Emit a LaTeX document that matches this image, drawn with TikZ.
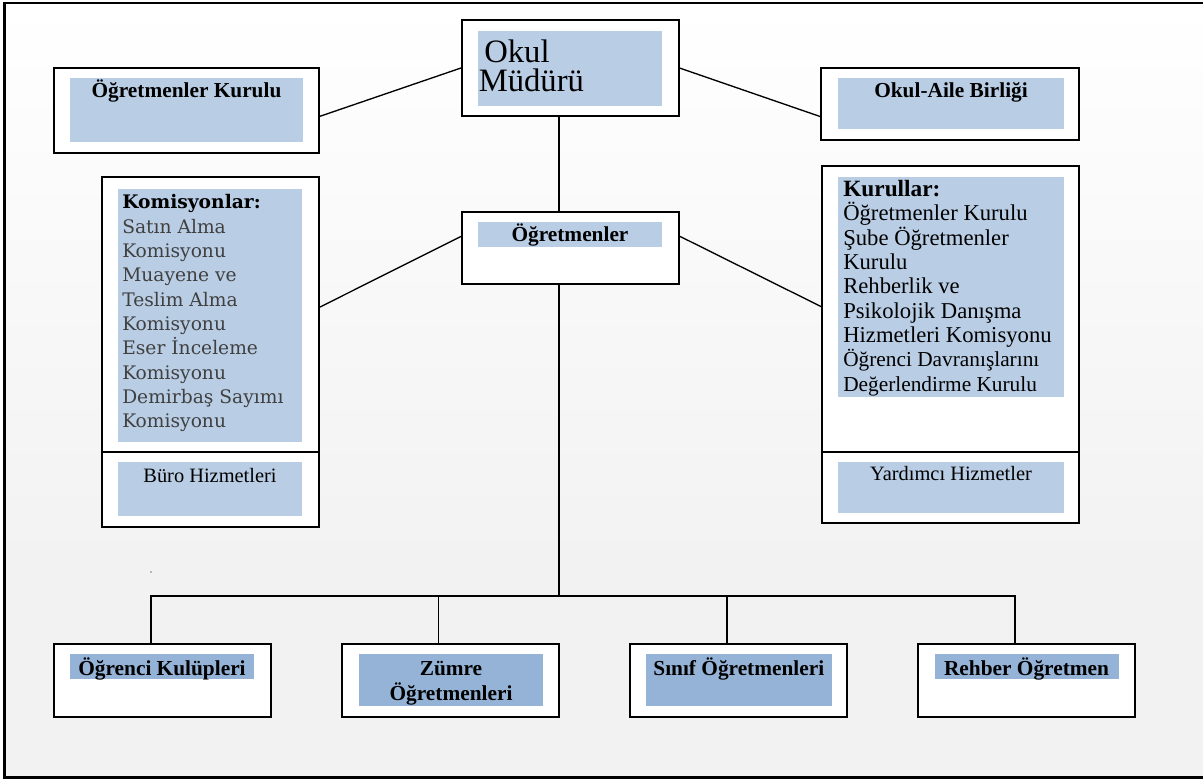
\documentclass[tikz,border=0pt]{standalone}
\usepackage{fontspec}
\setmainfont{Liberation Serif}
\newfontfamily\djv{DejaVu Serif}
\usetikzlibrary{fit,calc}
\definecolor{bluel}{HTML}{B9CDE5}
\definecolor{blued}{HTML}{95B3D7}
\definecolor{bgg}{HTML}{F2F2F2}
\definecolor{kgray}{HTML}{404040}
\begin{document}
\begin{tikzpicture}[x=0.75pt,y=-0.75pt,
  box/.style={draw=black,line width=1.5pt,fill=white,inner sep=0pt},
  lbfill/.style={fill=bluel,draw=none,inner sep=0pt},
  dbfill/.style={fill=blued,draw=none,inner sep=0pt},
  conn/.style={line width=1pt,draw=black},
  lbl/.style={inner sep=0pt,anchor=base,font=\fontsize{16}{19}\selectfont\bfseries},
  plain/.style={inner sep=0pt,anchor=base,font=\fontsize{15.3}{18}\selectfont},
  komline/.style={inner sep=0pt,anchor=base west,text=kgray,font=\djv\fontsize{14}{17}\selectfont},
  kurline/.style={inner sep=0pt,anchor=base west,font=\fontsize{17}{20}\selectfont},
  kurlinesm/.style={inner sep=0pt,anchor=base west,font=\fontsize{16}{19}\selectfont},
  big/.style={inner sep=0pt,anchor=base west,font=\fontsize{24.5}{27}\selectfont}]
\useasboundingbox (0,0) rectangle (1203,780);
% background
\fill[white] (0,0) rectangle (1203,780);
\shade[top color=white,bottom color=bgg] (4.5,3) rectangle (1203,560);
\fill[bgg] (4.5,560) rectangle (1203,777.5);
\draw[line width=1.9pt] (1203,3) -- (4.5,3) -- (4.5,777.5) -- (1203,777.5);

% boxes
\node[box,fit={(462,20) (678.5,116)}] (okul) {};
\node[lbfill,fit={(478,30.7) (662,106)}] (okulf) {};
\node[box,fit={(54,67.7) (319,152.7)}] (okk) {};
\node[lbfill,fit={(70,78) (303,141.7)}] (okkf) {};
\node[box,fit={(821,67.7) (1079,140)}] (oab) {};
\node[lbfill,fit={(838,78) (1064,129)}] (oabf) {};
\node[box,fit={(462,211.7) (679,284)}] (ogr) {};
\node[lbfill,fit={(478,222) (662,246.7)}] (ogrf) {};

\node[box,fit={(102,177) (319,452)}] (kom) {};
\node[box,fit={(102,452) (319,527)}] (buro) {};
\node[lbfill,fit={(118,189) (302,442)}] (komf) {};
\node[lbfill,fit={(118,462) (302,516)}] (burof) {};

\node[box,fit={(822,166) (1079,452.3)}] (kur) {};
\node[box,fit={(822,452.3) (1079,523)}] (yar) {};
\node[lbfill,fit={(838,176.7) (1064,396.7)}] (kurf) {};
\node[lbfill,fit={(838,461.7) (1064,513.3)}] (yarf) {};

\node[box,fit={(54,644) (271,716.7)}] (ogk) {};
\node[dbfill,fit={(70,654) (254,679.3)}] (ogkf) {};
\node[box,fit={(341.7,644) (558.7,716.7)}] (zum) {};
\node[dbfill,fit={(358.6,654) (543.4,705.7)}] (zumf) {};
\node[box,fit={(630,644) (847,716.7)}] (sin) {};
\node[dbfill,fit={(646,654) (831.5,705.7)}] (sinf) {};
\node[box,fit={(917.7,644) (1135,716.7)}] (reh) {};
\node[dbfill,fit={(934.6,654) (1119,679.3)}] (rehf) {};

% connectors
\coordinate (bar) at (559,596);
\draw[conn] ($(okk.north east)!0.57!(okk.south east)$) -- (okul.west);
\draw[conn] (okul.east) -- ($(oab.north west)!0.67!(oab.south west)$);
\draw[conn] (okul.south -| bar) -- (ogr.north -| bar);
\draw[conn] (ogr.south -| bar) -- (bar);
\draw[conn] ($(kom.north east)!0.473!(kom.south east)$) -- ($(ogr.north west)!0.346!(ogr.south west)$);
\draw[conn] ($(ogr.north east)!0.346!(ogr.south east)$) -- ($(kur.north west)!0.491!(kur.south west)$);
\draw[conn] ([xshift=-8.6pt]ogk.north) -- ([xshift=-8.6pt]ogk.north |- bar) -- ([xshift=-8.6pt]reh.north |- bar) -- ([xshift=-8.6pt]reh.north);
\draw[conn] ([xshift=-8.6pt]zum.north) -- ([xshift=-8.6pt]zum.north |- bar);
\draw[conn] ([xshift=-8.6pt]sin.north) -- ([xshift=-8.6pt]sin.north |- bar);

% texts
\node[big] (tokul1) at (484,62.5) {Okul};
\node[big] (tokul2) at (478.5,92) {Müdürü};
\node[lbl] (tokk) at (186.5,98) {Öğretmenler Kurulu};
\node[lbl] (toab) at (951,98) {Okul-Aile Birliği};
\node[lbl] (togr) at (570,241.7) {Öğretmenler};

\node[komline,text=black,font=\djv\bfseries\fontsize{14}{17}\selectfont] (k0) at (122,209) {Komisyonlar:};
\node[komline] (k1) at (122,233.3) {Satın Alma};
\node[komline] (k2) at (122,257.6) {Komisyonu};
\node[komline] (k3) at (122,281.9) {Muayene ve};
\node[komline] (k4) at (122,306.2) {Teslim Alma};
\node[komline] (k5) at (122,330.5) {Komisyonu};
\node[komline] (k6) at (122,354.8) {Eser İnceleme};
\node[komline] (k7) at (122,379.1) {Komisyonu};
\node[komline] (k8) at (122,403.4) {Demirbaş Sayımı};
\node[komline] (k9) at (122,427.7) {Komisyonu};
\node[plain] (tburo) at (210,482) {Büro Hizmetleri};

\node[kurline,font=\fontsize{17.5}{20}\selectfont\bfseries] (r0) at (843,196.7) {Kurullar:};
\node[kurline] (r1) at (843,221) {Öğretmenler Kurulu};
\node[kurline] (r2) at (843,245.3) {Şube Öğretmenler};
\node[kurline] (r3) at (843,269.6) {Kurulu};
\node[kurline] (r4) at (843,293.9) {Rehberlik ve};
\node[kurline] (r5) at (843,318.2) {Psikolojik Danışma};
\node[kurline] (r6) at (843,342.5) {Hizmetleri Komisyonu};
\node[kurlinesm] (r7) at (843,366.8) {Öğrenci Davranışlarını};
\node[kurlinesm] (r8) at (843,391.1) {Değerlendirme Kurulu};
\node[plain] (tyar) at (951,480.7) {Yardımcı Hizmetler};

\node[lbl] (togk) at (162,675) {Öğrenci Kulüpleri};
\node[lbl] (tzum1) at (451,675) {Zümre};
\node[lbl] (tzum2) at (451,700) {Öğretmenleri};
\node[lbl] (tsin) at (738.8,675) {Sınıf Öğretmenleri};
\node[lbl] (treh) at (1026.5,675) {Rehber Öğretmen};

\node[circle,fill=gray,inner sep=0pt,minimum size=1.4pt] (dot) at (151,572) {};
\end{tikzpicture}
\end{document}
